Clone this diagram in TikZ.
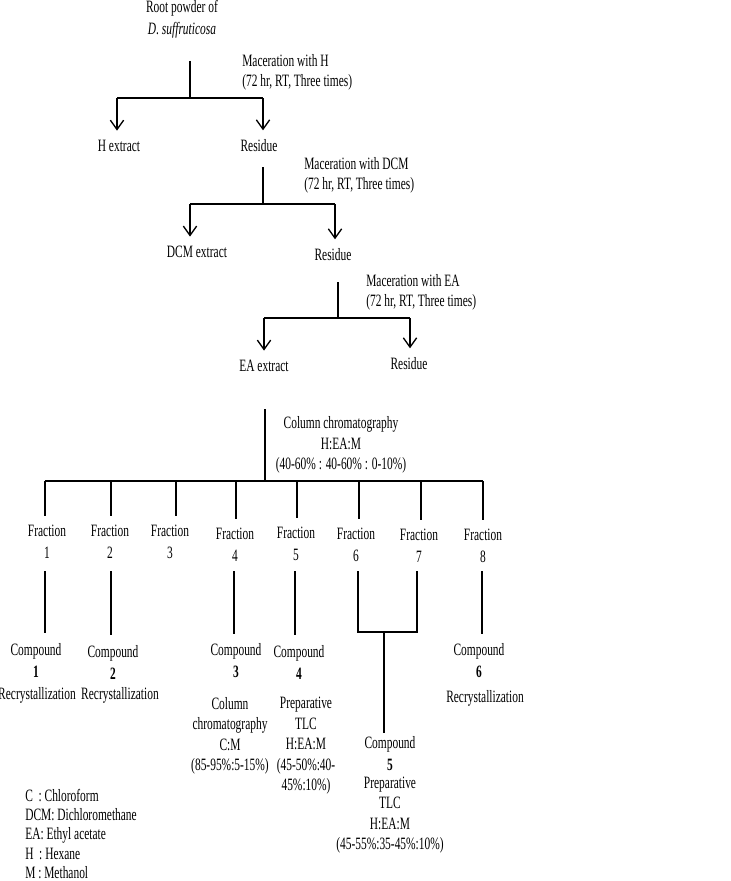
\documentclass[tikz,border=0pt]{standalone}
\usepackage{fontspec}
\setmainfont{Liberation Serif}[FakeStretch=0.66]
\usetikzlibrary{arrows.meta,positioning}

\begin{document}
\begin{tikzpicture}[x=0.75pt,y=-0.75pt,
    lbl/.style={inner sep=0pt,align=center,font=\fontsize{13}{16.5}\selectfont},
    cond/.style={lbl,font=\fontsize{13}{15.4}\selectfont},
    note/.style={lbl,align=left,anchor=west,font=\fontsize{13}{15}\selectfont},
    ln/.style={line width=1pt},
    arr/.style={ln,-{Straight Barb[length=7pt,width=10pt]},shorten >=7pt}]
\useasboundingbox (0,0) rectangle (731,881);

% extraction steps
\node[lbl] (root) at (182,19) {Root powder of\\ \textit{D. suffruticosa}};
\node[note] (macH) at (242,72) {Maceration with H\\(72 hr, RT, Three times)};
\node[lbl] (hext) at (119,146) {H extract};
\node[lbl] (res1) at (259,146) {Residue};
\node[note] (macDCM) at (304,175) {Maceration with DCM\\ (72 hr, RT, Three times)};
\node[lbl] (dcmext) at (197,252) {DCM extract};
\node[lbl] (res2) at (333,255) {Residue};
\node[note] (macEA) at (366,292) {Maceration with EA\\ (72 hr, RT, Three times)};
\node[lbl] (eaext) at (264,366) {EA extract};
\node[lbl] (res3) at (409,364) {Residue};

\coordinate (s1) at (190,61);  \coordinate (j1) at (190,98);
\coordinate (j1l) at (117,98); \coordinate (j1r) at (263,98);
\coordinate (s2) at (263,167); \coordinate (j2) at (263,204);
\coordinate (j2l) at (190,204); \coordinate (j2r) at (335,204);
\coordinate (s3) at (338,282); \coordinate (j3) at (338,318);
\coordinate (j3l) at (264,318); \coordinate (j3r) at (410,318);

\draw[ln] (s1) -- (j1) (j1l) -- (j1r);
\draw[arr] (j1l) -- (j1l |- hext.north);
\draw[arr] (j1r) -- (j1r |- res1.north);
\draw[ln] (s2) -- (j2) (j2l) -- (j2r);
\draw[arr] (j2l) -- (j2l |- dcmext.north);
\draw[arr] (j2r) -- (j2r |- res2.north);
\draw[ln] (s3) -- (j3) (j3l) -- (j3r);
\draw[arr] (j3l) -- (j3l |- eaext.north);
\draw[arr] (j3r) -- (j3r |- res3.north);

% column chromatography
\node[cond] (cc) at (341,445) {Column chromatography\\H:EA:M\\(40-60\% : 40-60\% : 0-10\%)};
\coordinate (s4) at (265,409); \coordinate (j4) at (265,481);
\draw[ln] (s4) -- (j4);
\draw[ln] (45,481) coordinate (barl) -- (483,481) coordinate (barr);

\foreach \lx/\tx/\ty [count=\i] in {45/47/542,111/110/542,176/170/542,236/235/545,
                                    297/296/544,359/356/545,421/419/546,483/483/546}{
  \node[lbl] (fr\i) at (\tx,\ty) {Fraction\\\i};
  \coordinate (f\i) at (\lx,481);
  \draw[ln,shorten >=7pt] (f\i) -- (f\i |- fr\i.north);
}

% compounds
\node[lbl] (cmp1) at (36,660) {Compound\\\textbf{1}};
\node[lbl] (cmp2) at (113,662) {Compound\\\textbf{2}};
\node[lbl] (cmp3) at (236,661) {Compound\\\textbf{3}};
\node[lbl] (cmp4) at (299,662) {Compound\\\textbf{4}};
\node[lbl] (cmp5) at (390,754) {Compound\\\textbf{5}};
\node[lbl] (cmp6) at (479,661) {Compound\\\textbf{6}};

\node[lbl] (rec1) at (37,695) {Recrystallization};
\node[lbl] (rec2) at (120,695) {Recrystallization};
\node[cond] (cond3) at (230,736) {Column\\chromatography\\C:M\\(85-95\%:5-15\%)};
\node[cond] (cond4) at (306,746) {Preparative\\TLC\\H:EA:M\\(45-50\%:40-\\45\%:10\%)};
\node[cond] (cond5) at (390,815) {Preparative\\TLC\\H:EA:M\\(45-55\%:35-45\%:10\%)};
\node[lbl] (rec6) at (485,698) {Recrystallization};

\foreach \i/\lx in {1/45,2/111,4/234,5/295,8/482}{
  \coordinate (d\i) at (\lx,571);
}
\draw[ln,shorten >=7pt] (d1) -- (d1 |- cmp1.north);
\draw[ln,shorten >=7pt] (d2) -- (d2 |- cmp2.north);
\draw[ln,shorten >=7pt] (d4) -- (d4 |- cmp3.north);
\draw[ln,shorten >=7pt] (d5) -- (d5 |- cmp4.north);
\draw[ln,shorten >=7pt] (d8) -- (d8 |- cmp6.north);

\coordinate (k6) at (358,632); \coordinate (k7) at (417,632);
\coordinate (k) at (384,632);
\draw[ln] (k6 |- d1) -- (k6) -- (k7) -- (k7 |- d1);
\draw[ln,shorten >=3pt] (k) -- (k |- cmp5.north);

% legend
\node[note,font=\fontsize{13}{14.6}\selectfont] (legend) at (25,834)
  {C~ : Chloroform\\DCM: Dichloromethane\\EA: Ethyl acetate\\H~ : Hexane\\M : Methanol};
\end{tikzpicture}
\end{document}
